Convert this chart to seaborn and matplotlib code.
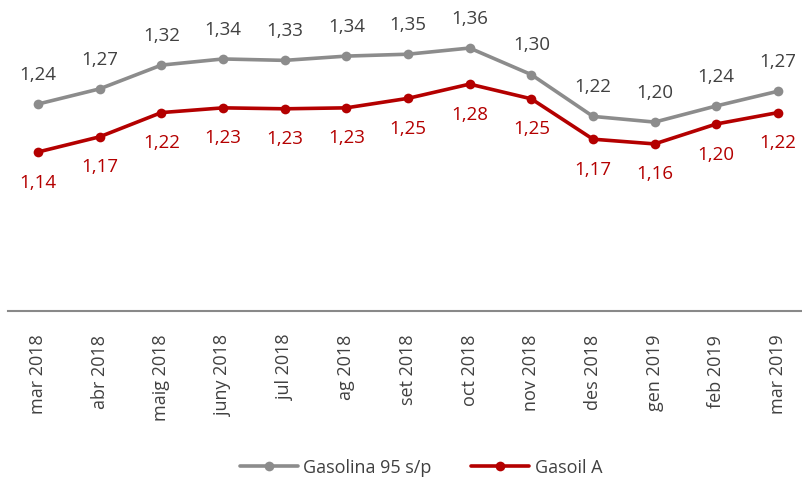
import pandas as pd
import matplotlib.pyplot as plt
import seaborn as sns

mesos = ['mar 2018', 'abr 2018', 'maig 2018', 'juny 2018', 'jul 2018', 'ag 2018',
         'set 2018', 'oct 2018', 'nov 2018', 'des 2018', 'gen 2019', 'feb 2019', 'mar 2019']
gasolina = [1.242, 1.274, 1.324, 1.337, 1.334, 1.343, 1.347, 1.360, 1.304, 1.216, 1.204, 1.238, 1.269]
gasoil = [1.141, 1.173, 1.224, 1.234, 1.232, 1.234, 1.254, 1.284, 1.253, 1.168, 1.158, 1.200, 1.224]

sns.set_style('white')
plt.rcParams['font.family'] = ['Open Sans', 'DejaVu Sans']

df = pd.DataFrame({'mes': list(range(len(mesos))) * 2,
                   'preu': gasolina + gasoil,
                   'serie': ['Gasolina 95 s/p'] * len(mesos) + ['Gasoil A'] * len(mesos)})

fig = plt.figure(figsize=(8.02, 4.79), dpi=100)
ax = fig.add_axes([0.01, 0.3507, 0.99, 0.6283])

colors = {'Gasolina 95 s/p': '#8c8c8c', 'Gasoil A': '#b40000'}
sns.lineplot(data=df, x='mes', y='preu', hue='serie', palette=colors, marker='o',
             markersize=7, markeredgewidth=0, linewidth=2.6, ax=ax, legend=True)

# etiquetes de dades
for i, v in enumerate(gasolina):
    ax.annotate(f'{v:.2f}'.replace('.', ','), (i, v), xytext=(0, 21), textcoords='offset points',
                ha='center', va='center', fontsize=13.5, color='#404040')
for i, v in enumerate(gasoil):
    ax.annotate(f'{v:.2f}'.replace('.', ','), (i, v), xytext=(0, -22), textcoords='offset points',
                ha='center', va='center', fontsize=13.5, color='#b40000')

ax.set_xlim(-0.486, 12.39)
ax.set_ylim(0.806, 1.44)
ax.set_xticks(range(len(mesos)))
ax.set_xticklabels(mesos, rotation=90, fontsize=13, color='#404040')
ax.set_yticks([])
ax.set_xlabel('')
ax.set_ylabel('')
ax.tick_params(axis='x', length=0, pad=17)
for s in ['top', 'right', 'left']:
    ax.spines[s].set_visible(False)
ax.spines['bottom'].set_color('#898989')
ax.spines['bottom'].set_linewidth(1.5)

handles, labels = ax.get_legend_handles_labels()
ax.get_legend().remove()
fig.legend(handles, labels, loc='center', bbox_to_anchor=(0.525, 0.024), ncol=2, frameon=False,
           fontsize=13, handlelength=3.2, columnspacing=2.2, handletextpad=0.3,
           labelcolor='#404040')

fig.savefig('out.png', dpi=100)
